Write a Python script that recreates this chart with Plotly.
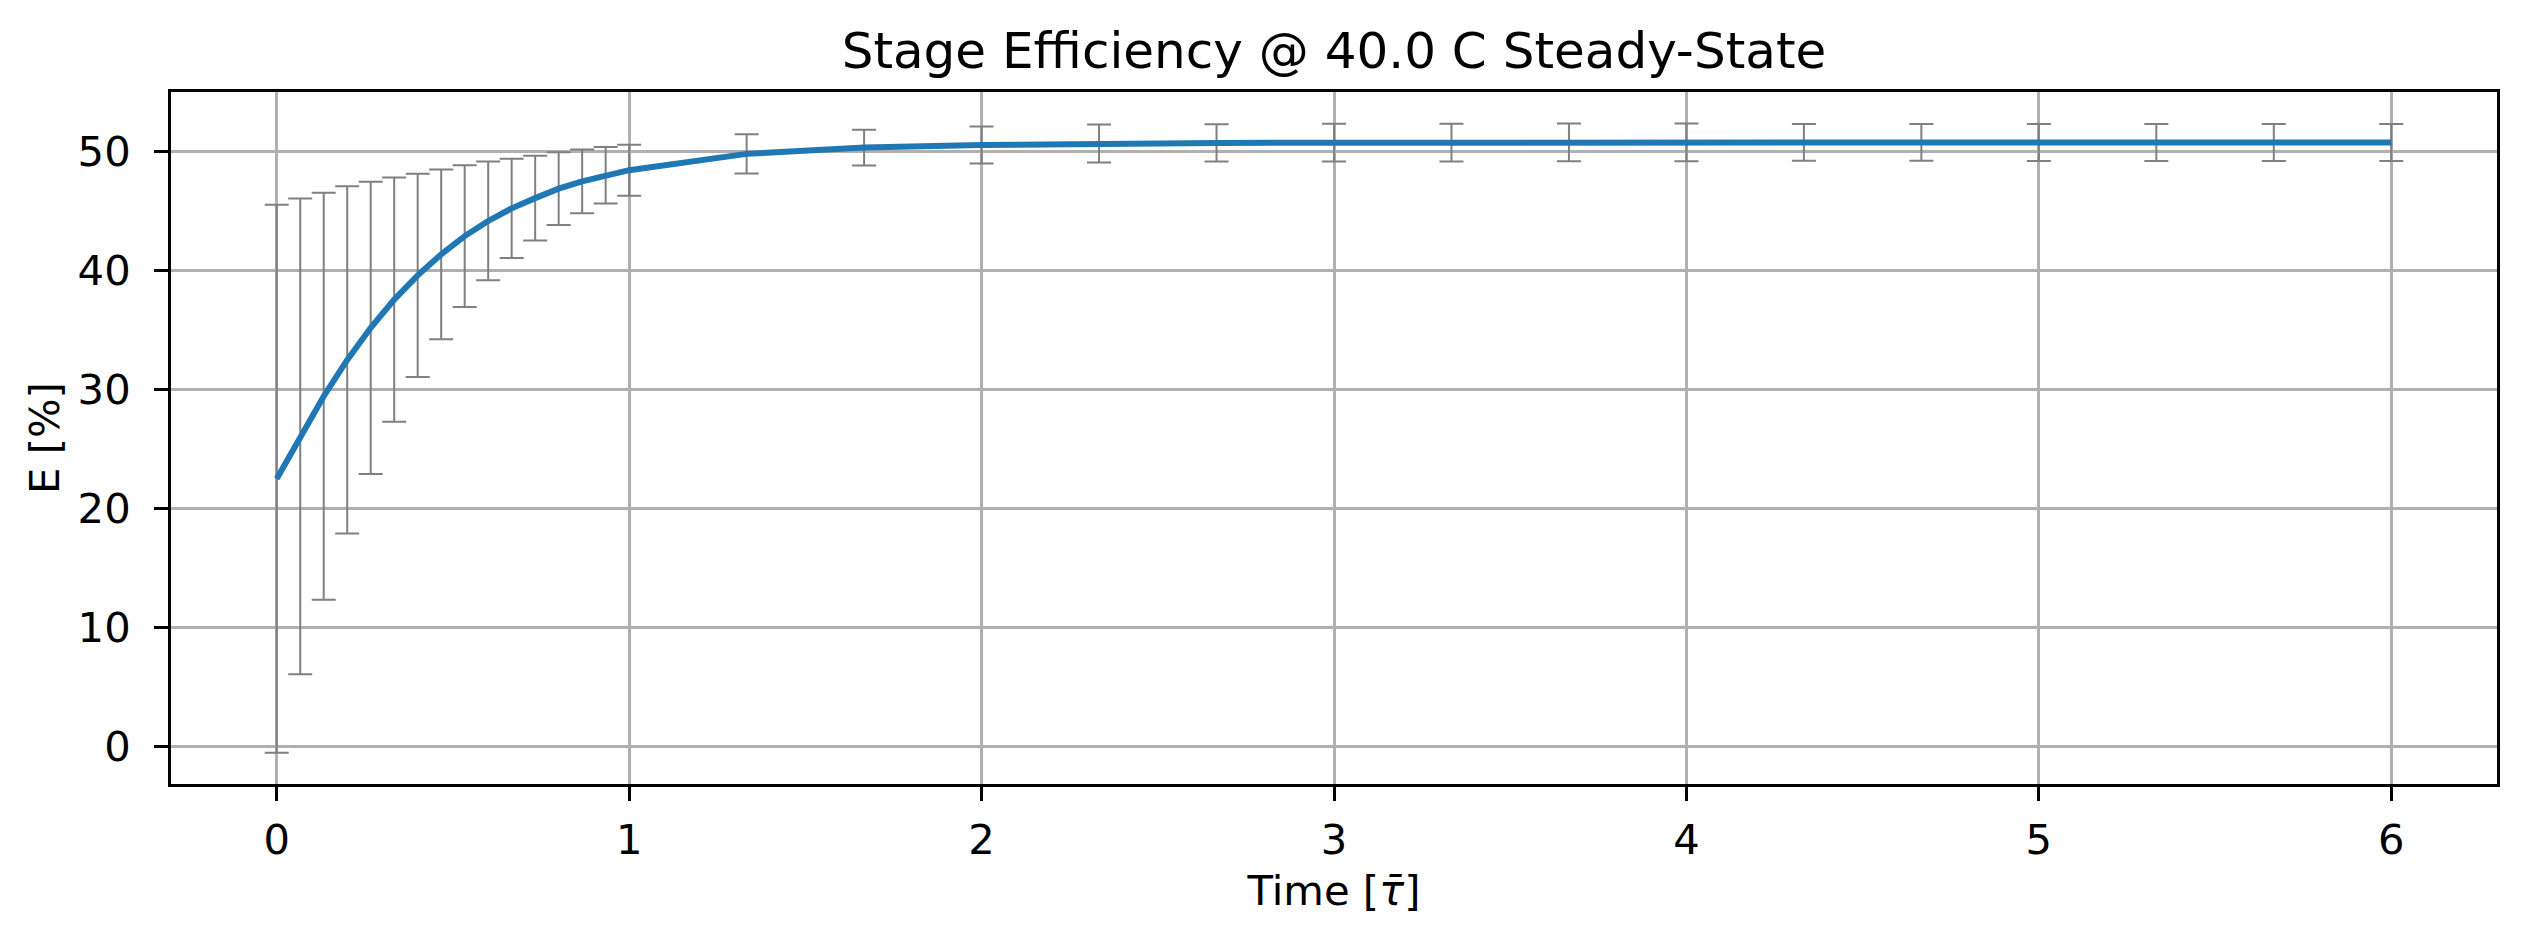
import plotly.graph_objects as go

# Time points [tau-bar]
time = [0, 1/15, 2/15, 3/15, 4/15, 5/15, 6/15, 7/15, 8/15, 9/15, 10/15, 11/15, 12/15, 13/15, 14/15, 1,
        4/3, 5/3, 2, 7/3, 8/3, 3, 10/3, 11/3, 4, 13/3, 14/3, 5, 16/3, 17/3, 6]

# Mean stage efficiency [%]
efficiency = [22.5, 26.06, 29.43, 32.48, 35.18, 37.55, 39.59, 41.36, 42.89, 44.16, 45.22, 46.08, 46.88, 47.49, 48.0, 48.43,
              49.8, 50.33, 50.55, 50.67, 50.72, 50.74, 50.75, 50.76, 50.77, 50.77, 50.77, 50.76, 50.76, 50.76, 50.76]

# Error (half-width) [%]
error = [23.03, 19.99, 17.11, 14.59, 12.28, 10.27, 8.54, 7.13, 5.95, 4.99, 4.18, 3.56, 3.05, 2.68, 2.38, 2.14,
         1.64, 1.5, 1.55, 1.6, 1.56, 1.59, 1.59, 1.59, 1.59, 1.55, 1.55, 1.55, 1.55, 1.55, 1.55]

x_ticks = [0, 1, 2, 3, 4, 5, 6]
y_ticks = [0, 10, 20, 30, 40, 50]

FONT = "DejaVu Sans"

fig = go.Figure()
fig.add_trace(go.Scatter(
    x=time, y=efficiency, mode="markers",
    marker=dict(size=1, opacity=0),
    error_y=dict(type="data", array=error, visible=True, color="#808080", thickness=2, width=12),
    showlegend=False, hoverinfo="skip",
))
fig.add_trace(go.Scatter(
    x=time, y=efficiency, mode="lines",
    line=dict(color="#1f77b4", width=6),
    showlegend=False,
))

axis_common = dict(
    showline=True, linecolor="black", linewidth=3, mirror=True,
    ticks="outside", ticklen=14, tickwidth=3, tickcolor="black",
    showgrid=True, gridcolor="#b0b0b0", gridwidth=2.5,
    zeroline=False,
    tickfont=dict(family=FONT, size=41.7, color="black"),
)

fig.update_xaxes(
    range=[-0.3, 6.3], tickvals=x_ticks, ticktext=[str(v) for v in x_ticks],
    title=dict(text="Time [<i>τ̄</i>]", font=dict(family=FONT, size=41.7, color="black"), standoff=13),
    ticklabelstandoff=3,
    **axis_common,
)
fig.update_yaxes(
    range=[-3.16, 55.0], tickvals=y_ticks, ticktext=[str(v) for v in y_ticks],
    title=dict(text="E [%]", font=dict(family=FONT, size=41.7, color="black"), standoff=6),
    ticklabelstandoff=15,
    **axis_common,
)

fig.update_layout(
    width=2525, height=945,
    margin=dict(l=171, r=28, t=92, b=161),
    paper_bgcolor="white", plot_bgcolor="white",
    font=dict(family=FONT, color="black"),
    title=dict(text="Stage Efficiency @ 40.0 C Steady-State", x=0.5283, xanchor="center",
               y=1 - 50 / 945, yanchor="middle", yref="container",
               font=dict(family=FONT, size=50, color="black")),
)

fig.write_html("out.html")
